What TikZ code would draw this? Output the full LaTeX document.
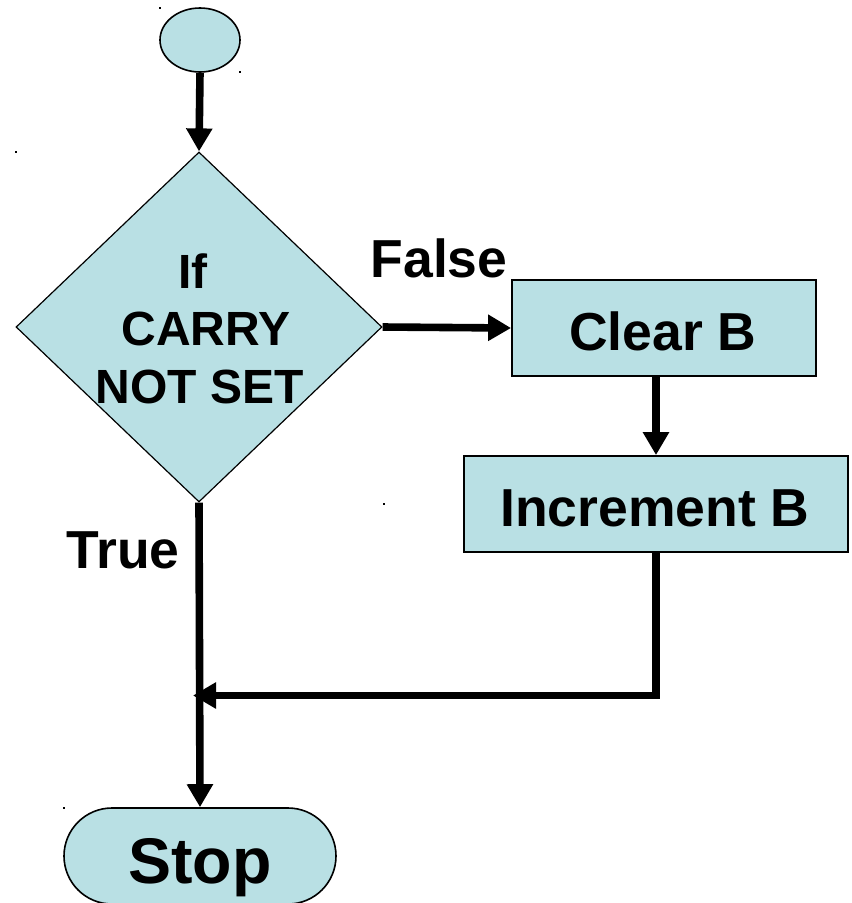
\documentclass[tikz,border=0pt]{standalone}
\usepackage{fontspec}
\setmainfont{Liberation Sans}
\usetikzlibrary{shapes.geometric,shapes.misc,arrows.meta,calc}
\definecolor{boxfill}{RGB}{185,224,228}
\begin{document}
\begin{tikzpicture}[x=1pt,y=-1pt,
  shapebox/.style={draw=black,fill=boxfill,inner sep=0pt},
  flow/.style={line width=7.6pt,-{Triangle[width=25pt 0 0,length=23pt 0 0]},line join=miter},
  lbl/.style={font=\bfseries\fontsize{#1}{#1}\selectfont,anchor=base,inner sep=0pt},
  speck/.style={fill=black,minimum size=2pt,inner sep=0pt}]
\useasboundingbox (0,0) rectangle (852,903);

% shapes
\node[shapebox,ellipse,line width=1.6pt,minimum width=80pt,minimum height=64pt] (start) at (200,40) {};
\node[shapebox,diamond,line width=1.2pt,minimum width=366pt,minimum height=350pt] (test) at (199,327) {};
\node[shapebox,rectangle,line width=1.8pt,minimum width=304pt,minimum height=96pt] (clear) at (664,328) {};
\node[shapebox,rectangle,line width=1.8pt,minimum width=384pt,minimum height=96pt] (inc) at (656,504) {};
\node[shapebox,rounded rectangle,line width=1.6pt,minimum width=272pt,minimum height=96pt] (stop) at (200,856) {};

% texts
\node[lbl=48] (tIf) at (193,288) {If};
\node[lbl=48] (tCarry) at (206,345) {CARRY};
\node[lbl=48] (tNot) at (200,403) {NOT SET};
\node[lbl=53.5] (tClear) at (663,350) {Clear B};
\node[lbl=53.5] (tInc) at (655,526) {Increment B};
\node[lbl=64.5] (tStop) at (200,883) {Stop};
\node[lbl=53.5] (tFalse) at (439,277) {False};
\node[lbl=53.5] (tTrue) at (123,568) {True};

% connectors
\coordinate (merge) at (193,695.5);
\draw[flow] (start.south) -- (test.north);
\draw[flow] (test.east) -- (clear.west);
\draw[flow] (inc.north |- clear.south) -- (inc.north);
\draw[flow] (test.south) -- (stop.north);
\draw[flow] (inc.south) |- (merge);

% stray specks
\node[speck] (s1) at (160,8) {};
\node[speck] (s2) at (240,72) {};
\node[speck] (s3) at (16,152) {};
\node[speck] (s4) at (384,504) {};
\node[speck] (s5) at (64,808) {};
\node[speck] (s6) at (816,376) {};
\node[speck] (s7) at (848,552) {};
\end{tikzpicture}
\end{document}
